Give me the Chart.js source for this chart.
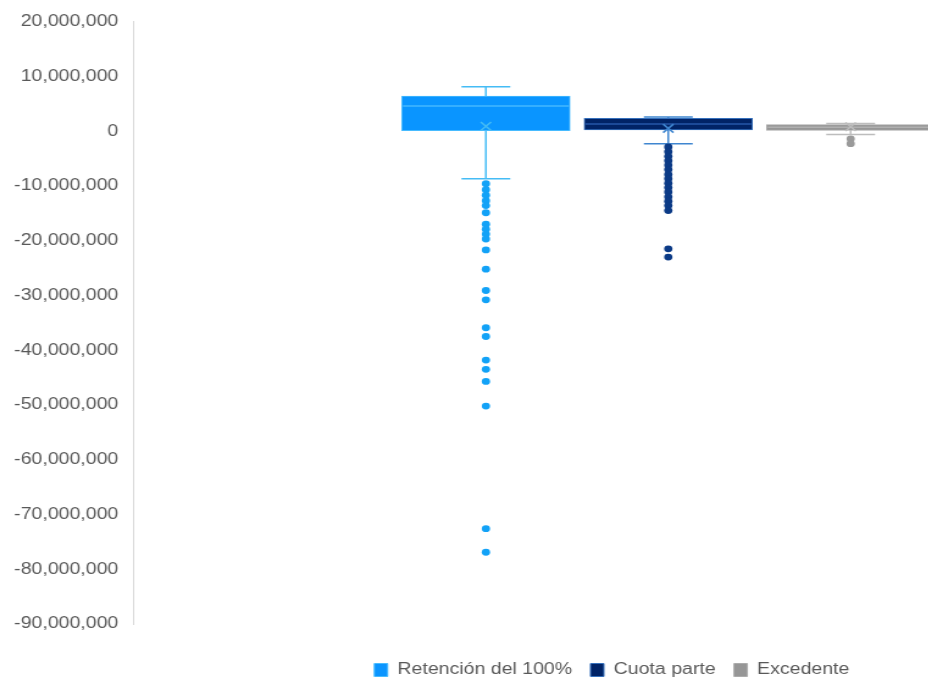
<!DOCTYPE html>
<html>
<head>
<meta charset="utf-8">
<title>Distribución de resultados</title>
<script src="https://cdn.jsdelivr.net/npm/chart.js@4"></script>
<style>
  html, body { margin: 0; padding: 0; background: #fff; overflow: hidden; }
  /* the chart is drawn a bit narrow and stretched sideways */
  #wrap { width: 1003px; height: 681px; transform: scaleX(1.22); transform-origin: 0 0; }
</style>
</head>
<body>
<div id="wrap"><canvas id="boxChart"></canvas></div>
<script>
// --- DATA ---
const seriesNames = ['Retención del 100%', 'Cuota parte', 'Excedente'];

// box statistics per series
const q1Values = [100000, 200000, 150000];
const q3Values = [6400000, 2350000, 1200000];
const medianValues = [4600000, 1300000, 700000];
const meanValues = [900000, 500000, 800000];
const whiskerLow = [-8700000, -2300000, -600000];
const whiskerHigh = [8100000, 2600000, 1400000];

// outliers below the lower whisker
const outliersRetencion = [
  -9600000, -10700000, -11700000, -12700000, -13600000, -14900000,
  -17000000, -17900000, -18800000, -19700000, -21700000, -25200000,
  -29100000, -30800000, -35900000, -37500000, -41800000, -43500000,
  -45700000, -50200000, -72600000, -76900000
];
const outliersCuota = [
  -2900000, -3750000, -4600000, -5400000, -6200000, -7000000, -7900000,
  -8700000, -9500000, -10300000, -11100000, -12000000, -12800000,
  -13600000, -14500000, -21500000, -23000000
];
const outliersExcedente = [-1400000, -2300000];

const yTicks = [20000000, 10000000, 0, -10000000, -20000000, -30000000,
  -40000000, -50000000, -60000000, -70000000, -80000000, -90000000];

// --- STYLE ---
const boxFill = ['#0A95FF', '#002366', '#969696'];
const boxLine = ['#47BBFF', '#3570BC', '#ABABAB'];
const whiskerColors = ['#45BCF5', '#3F86D0', '#BDBDBD'];
const medianColors = ['#45B8FF', '#2457A8', '#B0B0B0'];
const dotColors = ['#12A2F7', '#0B3A86', '#9A9A9A'];

Chart.defaults.font.family = "'Liberation Sans', Arial, sans-serif";
Chart.defaults.font.size = 16;
Chart.defaults.color = '#595959';

const outlierSets = [outliersRetencion, outliersCuota, outliersExcedente];

// whiskers under the boxes, median line on top of each box
const boxPlotExtras = {
  id: 'boxPlotExtras',
  beforeDatasetsDraw(chart) {
    const ctx = chart.ctx;
    const y = chart.scales.y;
    seriesNames.forEach((name, i) => {
      const bar = chart.getDatasetMeta(i).data[0];
      if (!bar) return;
      const cap = bar.width * 0.145;
      const yHi = y.getPixelForValue(whiskerHigh[i]);
      const yLo = y.getPixelForValue(whiskerLow[i]);
      const yQ3 = y.getPixelForValue(q3Values[i]);
      const yQ1 = y.getPixelForValue(q1Values[i]);
      ctx.save();
      ctx.strokeStyle = whiskerColors[i];
      ctx.lineWidth = 1.5;
      ctx.beginPath();
      ctx.moveTo(bar.x, yQ3); ctx.lineTo(bar.x, yHi);
      ctx.moveTo(bar.x, yQ1); ctx.lineTo(bar.x, yLo);
      ctx.moveTo(bar.x - cap, yHi); ctx.lineTo(bar.x + cap, yHi);
      ctx.moveTo(bar.x - cap, yLo); ctx.lineTo(bar.x + cap, yLo);
      ctx.stroke();
      ctx.restore();
    });
  },
  afterDatasetDraw(chart, args) {
    const i = args.index;
    if (i >= seriesNames.length) return;
    const bar = args.meta.data[0];
    if (!bar) return;
    const ctx = chart.ctx;
    const yMed = chart.scales.y.getPixelForValue(medianValues[i]);
    ctx.save();
    ctx.strokeStyle = medianColors[i];
    ctx.lineWidth = 1.5;
    ctx.beginPath();
    ctx.moveTo(bar.x - bar.width / 2 + 1, yMed);
    ctx.lineTo(bar.x + bar.width / 2 - 1, yMed);
    ctx.stroke();
    ctx.restore();
  }
};

const boxDatasets = seriesNames.map((name, i) => ({
  type: 'bar',
  label: name,
  data: [{ x: i, y: [q1Values[i], q3Values[i]] }],
  backgroundColor: boxFill[i],
  borderColor: boxLine[i],
  borderWidth: 1,
  borderSkipped: false,
  grouped: false,
  categoryPercentage: 1,
  barPercentage: 1,
  maxBarThickness: 138,
  order: 3
}));

const outlierDatasets = outlierSets.map((list, i) => ({
  type: 'scatter',
  label: seriesNames[i] + ' (atípicos)',
  data: list.map(v => ({ x: i, y: v })),
  backgroundColor: dotColors[i],
  borderWidth: 0,
  pointRadius: 3.4,
  order: 2
}));

const meanDatasets = meanValues.map((v, i) => ({
  type: 'scatter',
  label: seriesNames[i] + ' (media)',
  data: [{ x: i, y: v }],
  pointStyle: 'crossRot',
  pointRadius: 6,
  borderColor: whiskerColors[i],
  borderWidth: 1.5,
  order: 1
}));

new Chart(document.getElementById('boxChart'), {
  type: 'bar',
  data: { datasets: [...boxDatasets, ...outlierDatasets, ...meanDatasets] },
  options: {
    responsive: true,
    maintainAspectRatio: false,
    animation: false,
    layout: { padding: { top: 20, left: 0, right: 0, bottom: -7 } },
    scales: {
      x: {
        type: 'linear',
        offset: false,
        min: -1.935,
        max: 3.995,
        ticks: { display: false, stepSize: 1, includeBounds: false },
        grid: { display: false },
        border: { display: false },
        afterFit(scale) { scale.height = 23; }
      },
      y: {
        min: yTicks[yTicks.length - 1],
        max: yTicks[0],
        afterBuildTicks(scale) { scale.ticks = yTicks.map(v => ({ value: v })); },
        ticks: {
          padding: 12,
          color: '#595959',
          callback: v => Number(v).toLocaleString('en-US')
        },
        grid: { display: false, drawTicks: false },
        border: { display: true, color: '#D9D9D9', width: 1 },
        afterFit(scale) { scale.width = 109; }
      }
    },
    plugins: {
      legend: {
        position: 'bottom',
        labels: {
          boxWidth: 11,
          boxHeight: 13,
          padding: 15,
          color: '#595959',
          filter: item => item.datasetIndex < seriesNames.length
        }
      },
      tooltip: { enabled: false }
    }
  },
  plugins: [boxPlotExtras]
});
</script>
</body>
</html>
